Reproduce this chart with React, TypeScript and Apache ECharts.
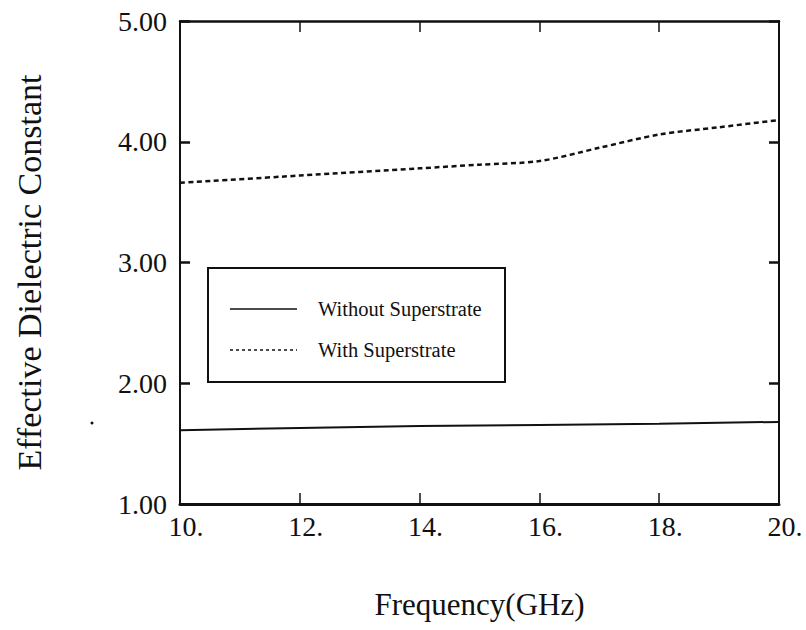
import React, { useEffect, useRef } from "react";
import * as echarts from "echarts";

const freqWithout = [10, 12, 14, 16, 18, 20];
const valWithout = [1.61, 1.63, 1.645, 1.655, 1.665, 1.68];
const freqWith = [10, 12, 14, 15, 16, 17, 18, 19, 20];
const valWith = [3.66, 3.72, 3.78, 3.81, 3.84, 3.95, 4.06, 4.12, 4.18];
const seriesNames = ["Without Superstrate", "With Superstrate"];
const xTicks = { min: 10, max: 20, step: 2 };
const yTicks = { min: 1, max: 5, step: 1 };

const FONT = "'Liberation Serif', 'DejaVu Serif', serif";
const INK = "#111";

export default function App() {
  const ref = useRef<HTMLDivElement>(null);
  useEffect(() => {
    if (!ref.current) return;
    const chart = echarts.init(ref.current, null, { renderer: "svg" });
    const pairs = (xs: number[], ys: number[]) => xs.map((x, i) => [x, ys[i]]);
    const baseX = {
      type: "value" as const,
      min: xTicks.min,
      max: xTicks.max,
      interval: xTicks.step,
      splitLine: { show: false },
    };
    const baseY = {
      type: "value" as const,
      min: yTicks.min,
      max: yTicks.max,
      interval: yTicks.step,
      splitLine: { show: false },
    };
    chart.setOption({
      animation: false,
      backgroundColor: "#fff",
      grid: { left: 180, right: 27, top: 21, bottom: 126 },
      xAxis: [
        {
          ...baseX,
          position: "bottom",
          name: "Frequency(GHz)",
          nameLocation: "middle",
          nameGap: 85,
          nameTextStyle: { fontFamily: FONT, fontSize: 31, color: INK },
          axisLine: { lineStyle: { color: INK, width: 3 } },
          axisTick: { inside: true, length: 11, lineStyle: { color: INK, width: 1.5 } },
          axisLabel: {
            fontFamily: FONT,
            fontSize: 28,
            color: INK,
            margin: 8,
            padding: [0, 0, 0, 12],
            formatter: (v: number) => v + ".",
          },
        },
        {
          ...baseX,
          position: "top",
          axisLine: { lineStyle: { color: INK, width: 2.5 } },
          axisTick: { inside: true, length: 11, lineStyle: { color: INK, width: 1.5 } },
          axisLabel: { show: false },
        },
      ],
      yAxis: [
        {
          ...baseY,
          position: "left",
          name: "Effective Dielectric Constant",
          nameLocation: "middle",
          nameGap: 134,
          nameTextStyle: {
            fontFamily: FONT,
            fontSize: 34,
            color: INK,
            padding: [0, 20, 0, 0],
          },
          axisLine: { lineStyle: { color: INK, width: 2 } },
          axisTick: { inside: true, length: 10, lineStyle: { color: INK, width: 2.5 } },
          axisLabel: {
            fontFamily: FONT,
            fontSize: 28,
            color: INK,
            margin: 13,
            formatter: (v: number) => v.toFixed(2),
          },
        },
        {
          ...baseY,
          position: "right",
          axisLine: { lineStyle: { color: INK, width: 2 } },
          axisTick: { inside: true, length: 10, lineStyle: { color: INK, width: 2.5 } },
          axisLabel: { show: false },
        },
      ],
      series: [
        {
          name: seriesNames[0],
          type: "line",
          data: pairs(freqWithout, valWithout),
          symbol: "none",
          lineStyle: { color: INK, width: 2 },
          silent: true,
        },
        {
          name: seriesNames[1],
          type: "line",
          data: pairs(freqWith, valWith),
          symbol: "none",
          smooth: 0.3,
          lineStyle: { color: INK, width: 2.5, type: [5, 3.5] },
          silent: true,
        },
      ],
      graphic: [
        {
          type: "rect",
          shape: { x: 208, y: 268, width: 297, height: 114 },
          style: { fill: "#fff", stroke: INK, lineWidth: 2 },
        },
        {
          type: "line",
          shape: { x1: 230, y1: 309, x2: 297, y2: 309 },
          style: { stroke: INK, lineWidth: 1.5 },
        },
        {
          type: "line",
          shape: { x1: 230, y1: 350, x2: 297, y2: 350 },
          style: { stroke: INK, lineWidth: 1.5, lineDash: [3, 3] },
        },
        {
          type: "text",
          x: 318,
          y: 309,
          style: {
            text: seriesNames[0],
            font: `20.5px ${FONT}`,
            fill: INK,
            verticalAlign: "middle",
          },
        },
        {
          type: "text",
          x: 318,
          y: 350,
          style: {
            text: seriesNames[1],
            font: `20.5px ${FONT}`,
            fill: INK,
            verticalAlign: "middle",
          },
        },
        {
          type: "circle",
          shape: { cx: 92, cy: 423, r: 1.5 },
          style: { fill: INK },
        },
      ],
    });
    return () => chart.dispose();
  }, []);
  return (
    <div
      ref={ref}
      style={{ position: "absolute", left: 0, top: 0, width: 806, height: 630 }}
    />
  );
}
